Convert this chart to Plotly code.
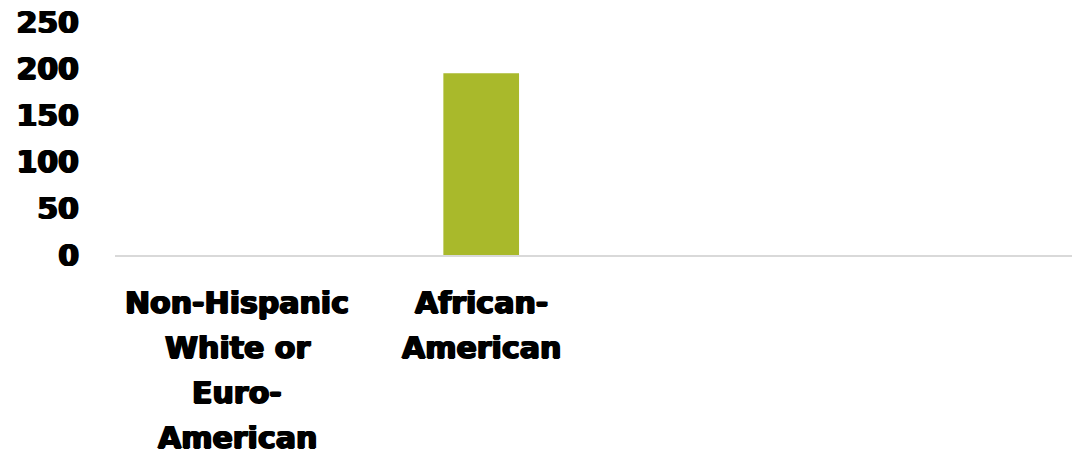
import plotly.graph_objects as go

# Chart data
categories = ["Non-Hispanic White or Euro-American", "African-American"]
values = [0, 195]
# Wrapped category labels, one list of lines per category
label_lines = [
    ["Non-Hispanic", "White or", "Euro-", "American"],
    ["African-", "American"],
]
y_ticks = [0, 50, 100, 150, 200, 250]

# Heavy black type; a thin shadow thickens the strokes
FONT = dict(
    family="DejaVu Sans, Arial Black, sans-serif", size=30, color="black",
    weight="bold",
    shadow="1px 0 0 #000, -1px 0 0 #000, 0 0.5px 0 #000",
)
LINE_STEP = 45.3
FIRST_LINE = 47

fig = go.Figure(
    go.Bar(
        x=categories,
        y=values,
        width=0.31,
        marker=dict(color="#A9B92B", line=dict(width=0)),
    )
)

# Category labels drawn line by line below the axis for wider line spacing
for cat, lines in zip(categories, label_lines):
    for i, line in enumerate(lines):
        fig.add_annotation(
            x=cat, y=0, xref="x", yref="y",
            text=line, showarrow=False,
            yanchor="middle", xanchor="center",
            yshift=-(FIRST_LINE + i * LINE_STEP),
            font=FONT,
        )

fig.update_layout(
    width=1074, height=454,
    margin=dict(l=115, r=2, t=22, b=199),
    paper_bgcolor="white", plot_bgcolor="white",
    showlegend=False,
    xaxis=dict(
        type="category",
        range=[-0.5, 3.42],
        showticklabels=False,
        showgrid=False,
        showline=True, linecolor="#d9d9d9", linewidth=2,
        ticks="",
        zeroline=False,
    ),
    yaxis=dict(
        range=[0, 250],
        tickvals=y_ticks,
        showgrid=False,
        zeroline=False,
        showline=False,
        ticks="",
        ticklabelstandoff=35,
        tickfont=FONT,
    ),
)

fig.write_html("out.html")
